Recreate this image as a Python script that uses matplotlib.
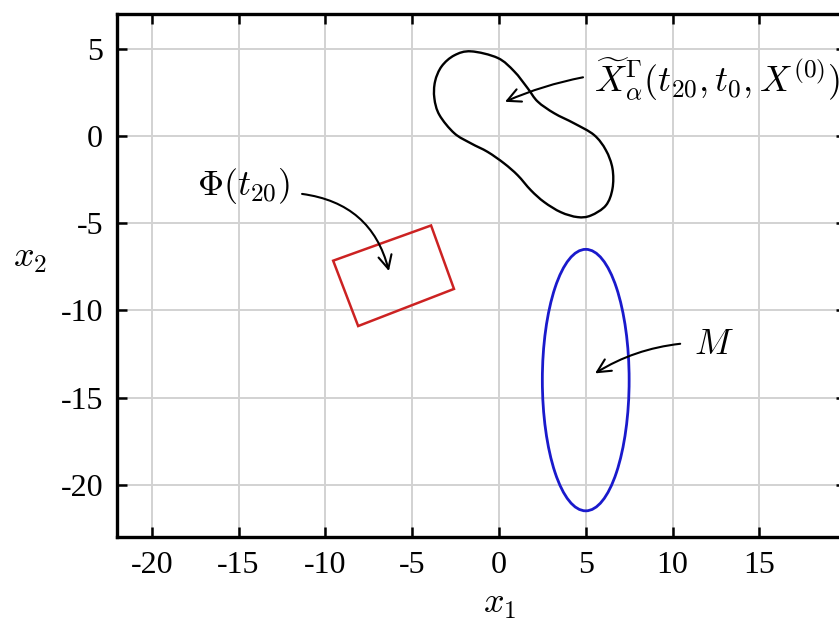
import numpy as np
import matplotlib
matplotlib.use("Agg")
import matplotlib.pyplot as plt
from matplotlib.patches import Ellipse, Polygon, PathPatch
from matplotlib.path import Path

plt.rcParams["mathtext.fontset"] = "cm"
plt.rcParams["font.family"] = ["Liberation Serif", "DejaVu Serif"]

# dati
xTicks = [-20, -15, -10, -5, 0, 5, 10, 15]
yTicks = [5, 0, -5, -10, -15, -20]
xLim = (-22, 20)
yLim = (-23, 7)

# insieme M (ellisse blu)
ellCentro = (5.0, -14.0)
ellLarghezza = 5.0
ellAltezza = 15.0

# Phi(t20) (rettangolo rosso)
rettX = [-9.55, -3.91, -2.59, -8.11]
rettY = [-7.15, -5.13, -8.77, -10.90]

# insieme raggiungibile (curva nera)
curvaX = [-1.61, -0.07, 0.88, 1.65, 2.23, 3.18, 4.33, 5.48, 6.16, 6.54, 6.54,
          6.16, 5.29, 4.53, 3.57, 2.61, 1.84, 1.08, 0.30, -0.65, -1.61, -2.57,
          -3.43, -3.72, -3.68, -3.30, -2.57]
curvaY = [4.86, 4.48, 3.71, 2.75, 1.98, 1.31, 0.73, 0.06, -0.81, -1.86, -3.02,
          -3.98, -4.56, -4.65, -4.37, -3.79, -3.11, -2.25, -1.57, -0.91, -0.42,
          0.16, 1.21, 2.17, 3.13, 4.00, 4.63]

# etichette e frecce
etichette = [r"$\Phi(t_{20})$",
             r"$\widetilde{X}^{\Gamma}_{\alpha}(t_{20},t_0,X^{(0)})$",
             r"$M$"]
testoXY = [(-14.7, -2.85), (5.45, 3.25), (11.25, -12.0)]
allineamento = ["center", "left", "left"]
puntaXY = [(-6.3, -7.9), (0.2, 1.9), (5.4, -13.7)]
codaXY = [(-11.5, -3.3), (5.0, 3.4), (10.6, -11.9)]
curvature = [-0.35, 0.06, 0.12]

fig = plt.figure(figsize=(8.39, 6.29), dpi=100)
ax = fig.add_axes([0.1395, 0.1463, 0.869, 0.8314])

ax.set_xlim(*xLim)
ax.set_ylim(*yLim)
ax.set_xticks(xTicks)
ax.set_yticks(yTicks)
ax.set_xticklabels([str(v) for v in xTicks])
ax.set_yticklabels([str(v) for v in yTicks])
ax.grid(True, color="#d2d2d2", linewidth=1.4)
ax.set_axisbelow(True)
ax.tick_params(direction="in", length=7, width=1.8, top=True, right=True,
               labelsize=23, pad=10)
for s in ax.spines.values():
    s.set_linewidth(2.4)

ax.add_patch(Ellipse(ellCentro, ellLarghezza, ellAltezza, fill=False,
                     edgecolor="#1a1acc", linewidth=2.0))
ax.add_patch(Polygon(np.column_stack([rettX, rettY]), closed=True, fill=False,
                     edgecolor="#cc2222", linewidth=1.8))

# curva chiusa liscia (Catmull-Rom -> Bezier)
P = np.column_stack([curvaX, curvaY])
n = len(P)
verts = [P[0]]
codes = [Path.MOVETO]
for i in range(n):
    p0, p1, p2, p3 = P[i - 1], P[i], P[(i + 1) % n], P[(i + 2) % n]
    verts += [p1 + (p2 - p0) / 6, p2 - (p3 - p1) / 6, p2]
    codes += [Path.CURVE4] * 3
ax.add_patch(PathPatch(Path(verts, codes), fill=False, edgecolor="black",
                       linewidth=1.7))

for i in range(len(etichette)):
    ax.text(testoXY[i][0], testoXY[i][1], etichette[i],
            fontsize=26, ha=allineamento[i], va="center")
    ax.annotate("", xy=puntaXY[i], xytext=codaXY[i],
                arrowprops=dict(arrowstyle="->", color="black", lw=1.5,
                                mutation_scale=24,
                                connectionstyle="arc3,rad=%s" % curvature[i]))

ax.text(0.525, -0.13, r"$x_1$", transform=ax.transAxes, fontsize=26,
        ha="center", va="center")
ax.text(-0.119, 0.533, r"$x_2$", transform=ax.transAxes, fontsize=26,
        ha="center", va="center")

fig.savefig("out.png", dpi=100)
